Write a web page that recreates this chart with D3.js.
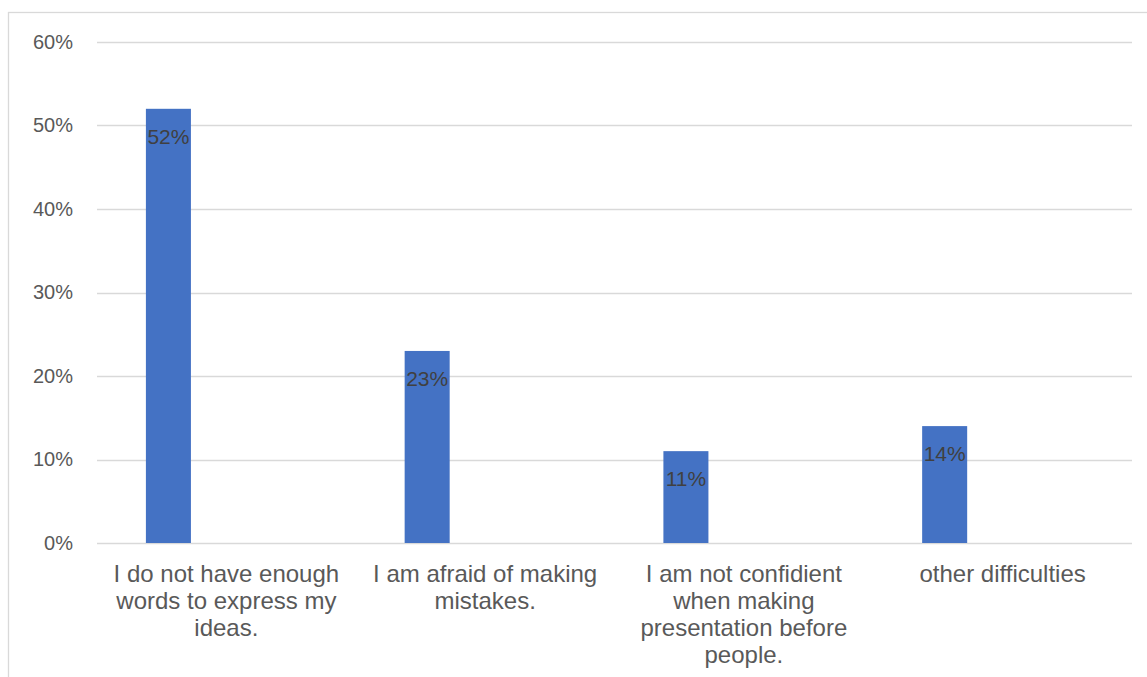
<!DOCTYPE html>
<html>
<head>
<meta charset="utf-8">
<script src="https://cdn.jsdelivr.net/npm/d3@7"></script>
<style>
  html, body { margin: 0; padding: 0; background: #fff; }
  svg { display: block; font-family: "Liberation Sans", Arial, sans-serif; }
</style>
</head>
<body>
<svg id="chart" width="1147" height="677"></svg>
<script>
// Survey responses: speaking difficulties (share of respondents)
const categories = [
  "I do not have enough words to express my ideas.",
  "I am afraid of making mistakes.",
  "I am not confidient when making presentation before people.",
  "other difficulties"
];
const categoryLines = [
  ["I do not have enough", "words to express my", "ideas."],
  ["I am afraid of making", "mistakes."],
  ["I am not confidient", "when making", "presentation before", "people."],
  ["other difficulties"]
];
const values = [52, 23, 11, 14];
const valueLabels = ["52%", "23%", "11%", "14%"];
const yTicks = [0, 10, 20, 30, 40, 50, 60];

const svg = d3.select("#chart");
const W = 1147, H = 677;

// chart frame (right and bottom edges fall outside the view)
svg.append("rect")
  .attr("x", 8.5).attr("y", 12.5)
  .attr("width", W + 10).attr("height", H + 10)
  .attr("fill", "none").attr("stroke", "#d9d9d9").attr("stroke-width", 1.3);

const plot = { left: 97, right: 1132, top: 42, bottom: 543 };

const x = d3.scaleBand()
  .domain(categories)
  .range([plot.left, plot.right])
  .paddingInner(0).paddingOuter(0);

const y = d3.scaleLinear()
  .domain([0, 60])
  .range([plot.bottom, plot.top]);

// gridlines
svg.append("g")
  .selectAll("line")
  .data(yTicks)
  .join("line")
  .attr("x1", plot.left).attr("x2", plot.right)
  .attr("y1", d => Math.round(y(d)) + 0.5).attr("y2", d => Math.round(y(d)) + 0.5)
  .attr("stroke", "#d9d9d9").attr("stroke-width", 1.5);

// y axis labels
const yAxis = d3.axisLeft(y)
  .tickValues(yTicks)
  .tickFormat(d => d + "%")
  .tickSize(0)
  .tickPadding(0);
const gy = svg.append("g")
  .attr("transform", `translate(${plot.left - 24},0)`)
  .call(yAxis);
gy.select(".domain").remove();
gy.selectAll("text")
  .attr("fill", "#595959")
  .attr("font-size", "20px")
  .attr("font-family", "'Liberation Sans', Arial, sans-serif");

// bars: sit in the left part of each category band
const bw = x.bandwidth();
const barOffset = 0.189 * bw;
const barWidth = 0.174 * bw;

svg.append("g")
  .selectAll("rect")
  .data(values)
  .join("rect")
  .attr("x", (d, i) => x(categories[i]) + barOffset)
  .attr("y", d => y(d))
  .attr("width", barWidth)
  .attr("height", d => y(0) - y(d))
  .attr("fill", "#4472c4");

// value labels, inside the top of each bar
svg.append("g")
  .selectAll("text")
  .data(values)
  .join("text")
  .attr("x", (d, i) => x(categories[i]) + barOffset + barWidth / 2)
  .attr("y", d => y(d) + 35)
  .attr("text-anchor", "middle")
  .attr("fill", "#404040")
  .attr("font-size", "21px")
  .text((d, i) => valueLabels[i]);

// category labels (wrapped)
const cat = svg.append("g")
  .selectAll("text")
  .data(categories)
  .join("text")
  .attr("text-anchor", "middle")
  .attr("fill", "#595959")
  .attr("font-size", "24px")
  .attr("x", d => x(d) + bw / 2)
  .attr("y", 582);
cat.each(function(d, i) {
  const t = d3.select(this);
  categoryLines[i].forEach((line, j) => {
    t.append("tspan")
      .attr("x", x(d) + bw / 2)
      .attr("y", 582 + j * 27)
      .text(line);
  });
});
</script>
</body>
</html>
